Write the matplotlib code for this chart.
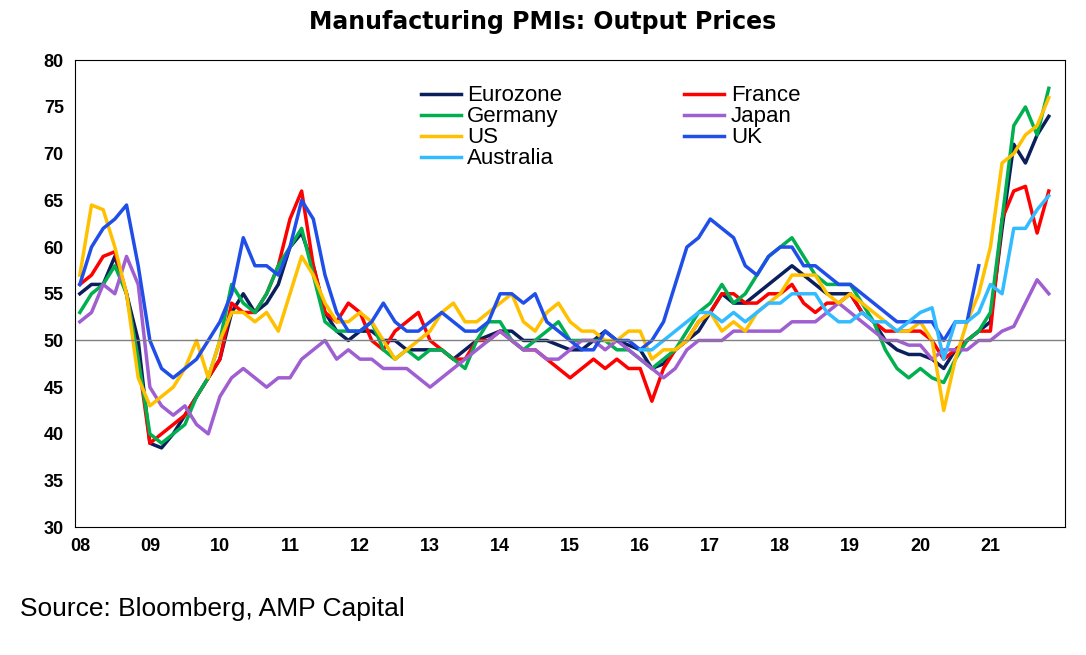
import numpy as np
import matplotlib.pyplot as plt

plt.rcParams['font.family'] = ['Liberation Sans', 'DejaVu Sans']

# bi-monthly sample points, Jan 2008 .. Nov 2021
t = 2008 + np.arange(84) / 6.0
nan = np.nan

eurozone = [55, 56, 56, 59, 55, 50, 39, 38.5, 40, 42, 44, 46, 48, 53, 55, 53, 54, 56,
            60, 61.5, 58, 53, 51, 50, 51, 51, 50, 50, 49, 49, 49, 49, 48, 49, 50, 50.5,
            51, 51, 50, 50, 50, 49.5, 49, 49, 50, 51, 50, 49.5, 49, 47, 47.5, 49, 50, 51,
            53, 55, 54, 54, 55, 56, 57, 58, 57, 56, 55, 55, 55, 53, 52, 50, 49, 48.5,
            48.5, 48, 47, 49, 50, 51, 52, 62, 71, 69, 72, 74]
france = [56, 57, 59, 59.5, 55, 48, 39, 40, 41, 42, 44, 46, 48, 54, 53, 53, 55, 58,
          63, 66, 58, 53, 52, 54, 53, 50, 49, 51, 52, 53, 50, 49, 48, 48, 50, 50,
          51, 50, 49, 49, 48, 47, 46, 47, 48, 47, 48, 47, 47, 43.5, 47, 49, 50, 52,
          53, 55, 55, 54, 54, 55, 55, 56, 54, 53, 54, 54, 55, 53, 52, 51, 51, 51,
          51, 50, 48, 49, 50, 51, 51, 63, 66, 66.5, 61.5, 66]
germany = [53, 55, 56, 58, 55, 48, 40, 39, 40, 41, 44, 46, 50, 56, 54, 53, 55, 58,
           60, 62, 57, 52, 51, 51, 51, 52, 49, 48, 49, 48, 49, 49, 48, 47, 50, 52,
           52, 50, 49, 50, 51, 52, 50, 50, 50, 50, 49, 49, 48, 47, 48, 49, 51, 53,
           54, 56, 54, 55, 57, 59, 60, 61, 59, 57, 56, 56, 56, 54, 52, 49, 47, 46,
           47, 46, 45.5, 48, 50, 51, 53, 63, 73, 75, 72, 77]
japan = [52, 53, 56, 55, 59, 56, 45, 43, 42, 43, 41, 40, 44, 46, 47, 46, 45, 46,
         46, 48, 49, 50, 48, 49, 48, 48, 47, 47, 47, 46, 45, 46, 47, 48, 49, 50,
         51, 50, 49, 49, 48, 48, 49, 50, 50, 49, 50, 49, 48, 47, 46, 47, 49, 50,
         50, 50, 51, 51, 51, 51, 51, 52, 52, 52, 53, 54, 53, 52, 51, 50, 50, 49.5,
         49.5, 48, 49, 49, 49, 50, 50, 51, 51.5, 54, 56.5, 55]
us = [57, 64.5, 64, 60, 55, 46, 43, 44, 45, 47, 50, 46, 50, 53, 53, 52, 53, 51,
      55, 59, 57, 54, 52, 52, 53, 52, 50, 48, 49, 50, 51, 53, 54, 52, 52, 53,
      54, 55, 52, 51, 53, 54, 52, 51, 51, 50, 50, 51, 51, 48, 49, 49, 50, 52,
      53, 51, 52, 51, 53, 54, 55, 57, 57, 57, 55, 54, 55, 54, 53, 52, 51, 51,
      52, 50, 42.5, 48, 52, 55, 60, 69, 70, 72, 73, 76]
uk = [56, 60, 62, 63, 64.5, 58, 50, 47, 46, 47, 48, 50, 52, 55, 61, 58, 58, 57,
      60, 65, 63, 57, 53, 51, 51, 52, 54, 52, 51, 51, 52, 53, 52, 51, 51, 52,
      55, 55, 54, 55, 52, 51, 50, 49, 49, 51, 50, 50, 49, 50, 52, 56, 60, 61,
      63, 62, 61, 58, 57, 59, 60, 60, 58, 58, 57, 56, 56, 55, 54, 53, 52, 52,
      52, 52, 50, 52, 52, 58, nan, nan, nan, nan, nan, nan]
australia = [nan] * 48 + [49, 49, 50, 51, 52, 53,
             53, 52, 53, 52, 53, 54, 54, 55, 55, 55, 53, 52, 52, 53, 52, 52, 51, 52,
             53, 53.5, 48, 52, 52, 53, 56, 55, 62, 62, 64, 65.5]

series = [('Eurozone', eurozone, '#0a1f5c'), ('France', france, '#ff0000'),
          ('Germany', germany, '#00b050'), ('Japan', japan, '#a05fd0'),
          ('US', us, '#ffc000'), ('UK', uk, '#1f4fe8'),
          ('Australia', australia, '#33bbff')]

fig = plt.figure(figsize=(10.86, 6.55), dpi=100)
ax = fig.add_axes([0.069, 0.195, 0.912, 0.713])
lines = {}
for name, vals, col in series:
    lines[name], = ax.plot(t, vals, color=col, lw=2.5, label=name)
ax.axhline(50, color='#808080', lw=1)

ax.set_xlim(2007.93, 2022.07)
ax.set_ylim(30, 80)
ax.set_xticks(range(2008, 2022))
ax.set_xticklabels([f'{y % 100:02d}' for y in range(2008, 2022)])
ax.set_yticks(range(30, 81, 5))
ax.tick_params(labelsize=13, length=0, pad=8)
for lab in ax.get_xticklabels() + ax.get_yticklabels():
    lab.set_fontweight('bold')

# row-major legend order
order = ['Eurozone', 'Germany', 'US', 'Australia', 'France', 'Japan', 'UK']
ax.legend([lines[n] for n in order], order, ncol=2, loc='upper left',
          bbox_to_anchor=(0.34, 0.965), frameon=False, fontsize=16,
          handlelength=1.8, handletextpad=0.3, columnspacing=5.5,
          labelspacing=0.0, borderaxespad=0)
fig.suptitle('Manufacturing PMIs: Output Prices', y=0.985, fontsize=17,
             fontweight='bold', family='DejaVu Sans')
fig.text(0.018, 0.06, 'Source: Bloomberg, AMP Capital', fontsize=19)
fig.savefig('out.png')
